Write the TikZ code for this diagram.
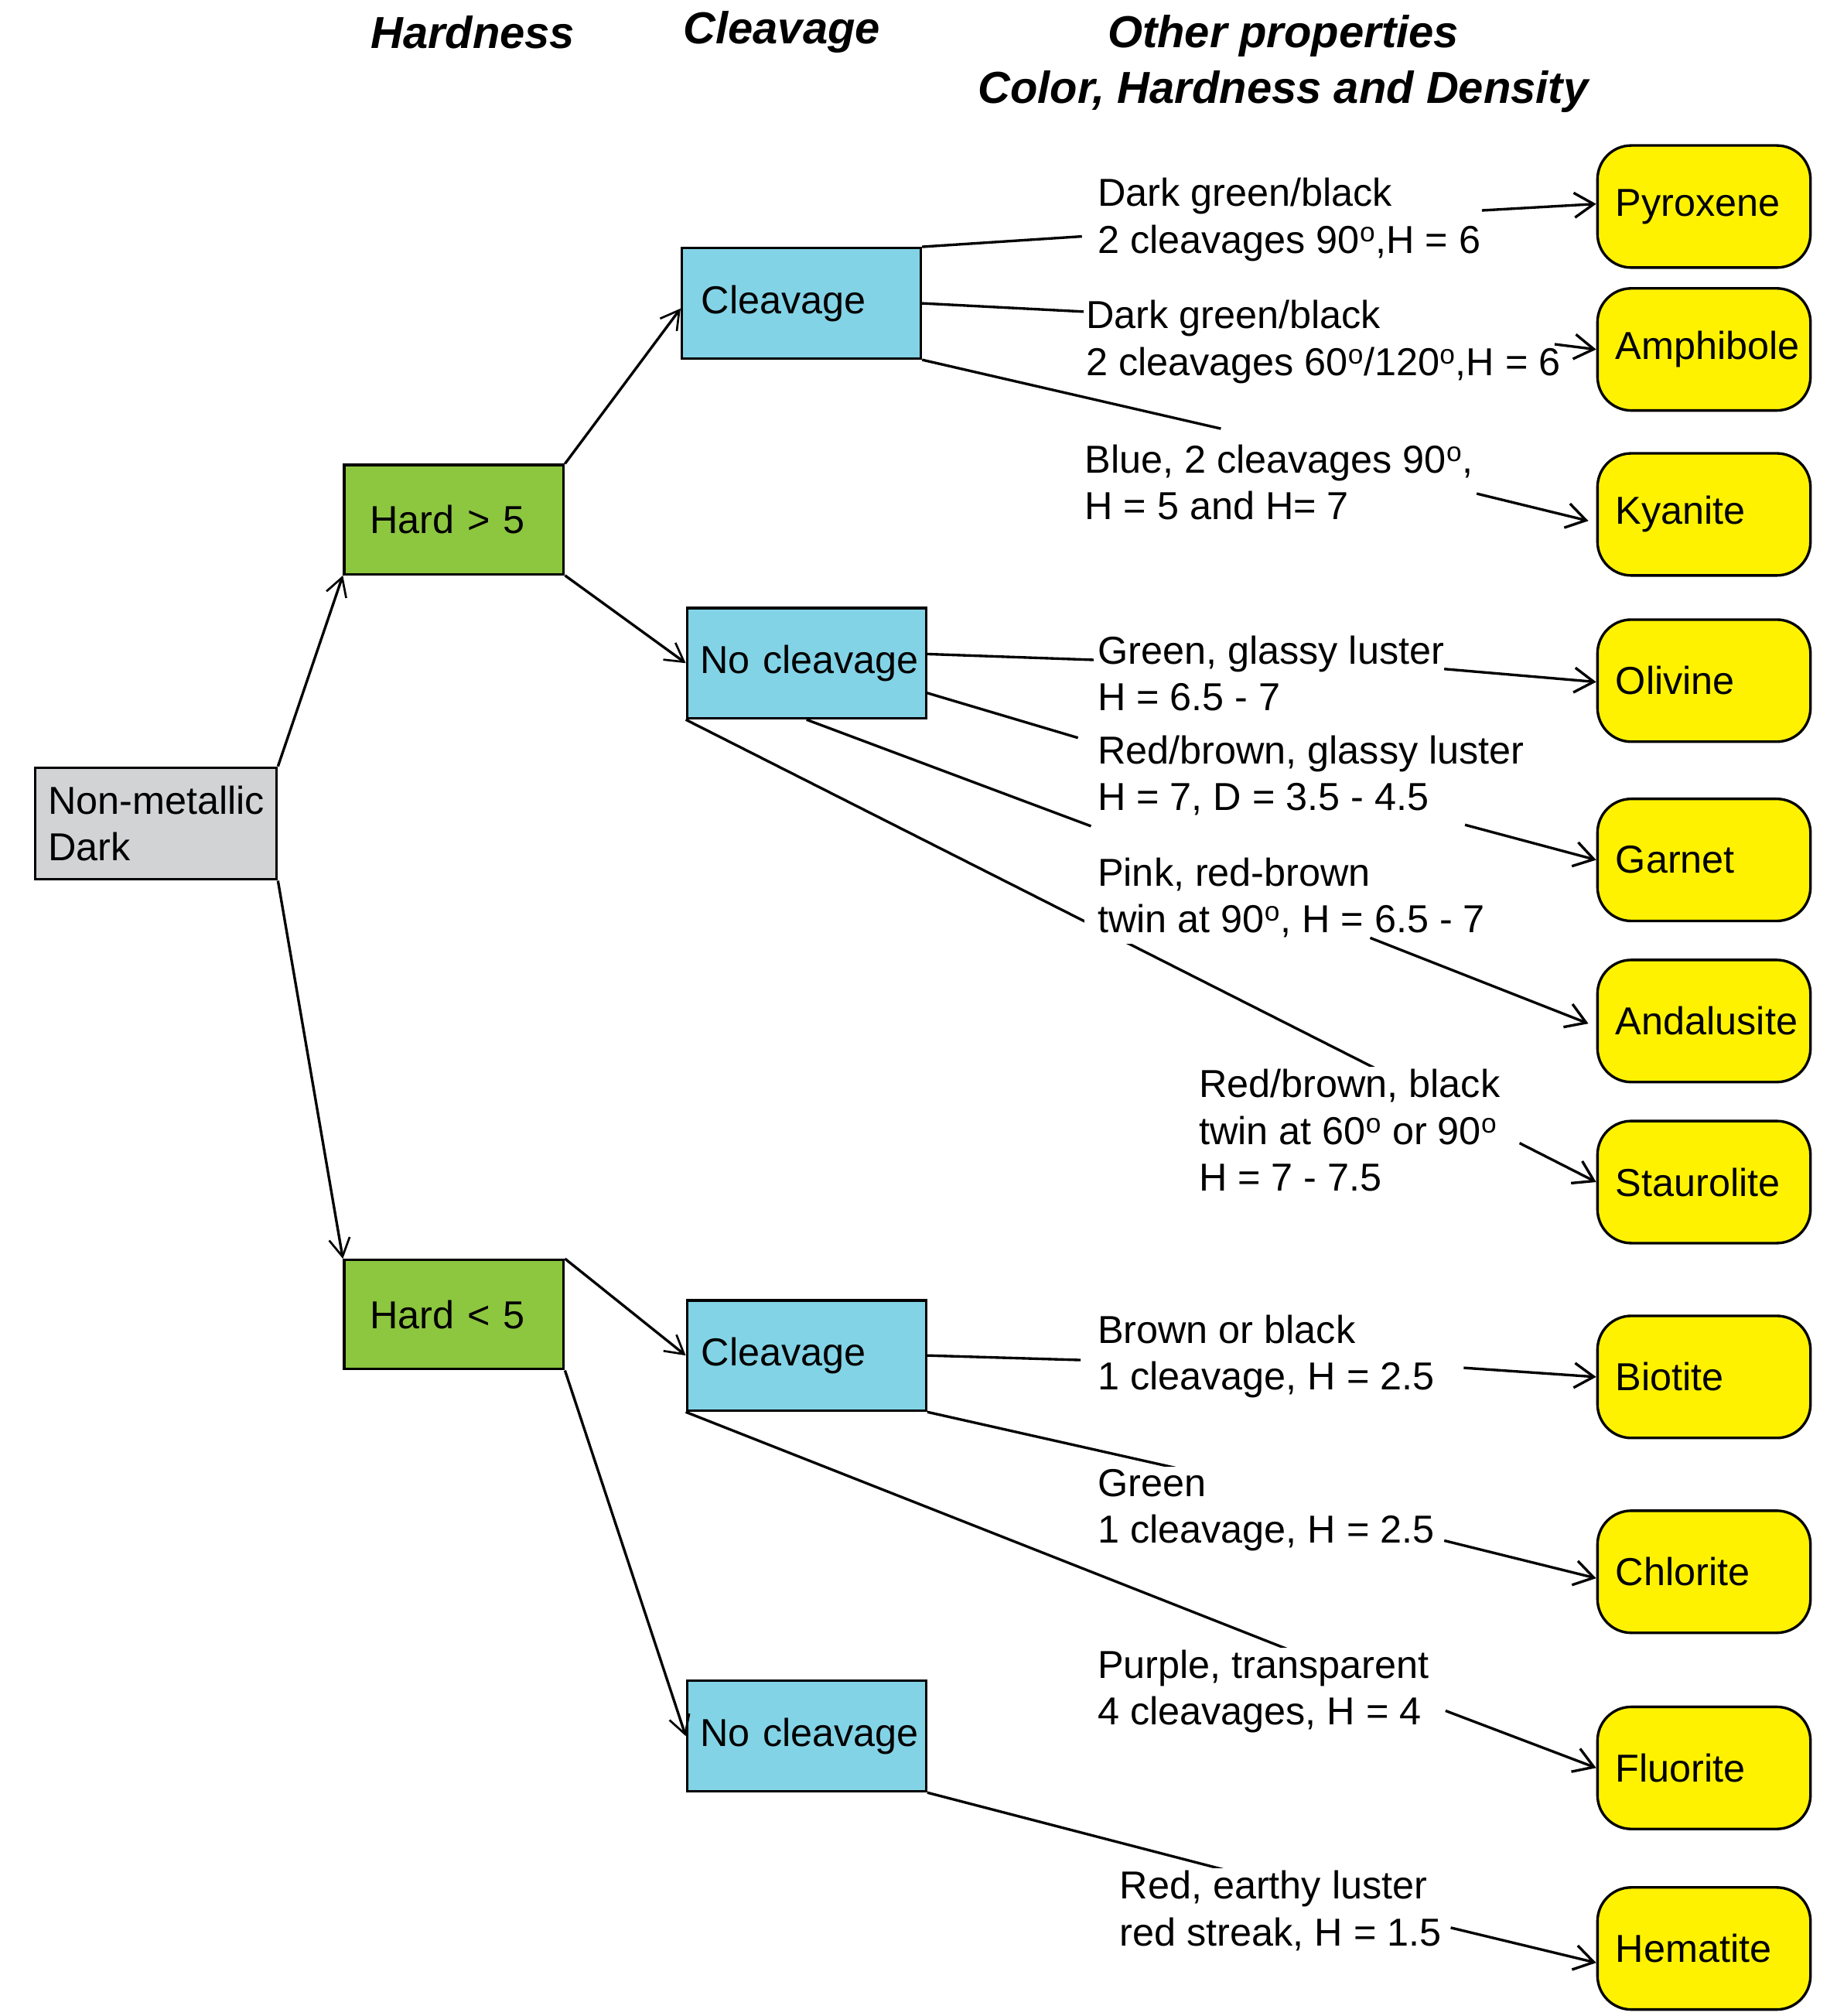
\documentclass[tikz,border=0pt]{standalone}
\usepackage{fontspec}
\setmainfont{Liberation Sans}
\usetikzlibrary{arrows.meta}
\definecolor{rootgray}{HTML}{D1D3D4}
\definecolor{hardgreen}{HTML}{8DC63F}
\definecolor{cleavblue}{HTML}{83D3E6}
\definecolor{minyellow}{HTML}{FFF200}
\newcommand{\dg}{\textsuperscript{o}}
\hyphenpenalty=10000
\exhyphenpenalty=10000
\hbadness=10000
\hfuzz=50pt
\tikzset{
  every node/.style={font=\fontsize{30}{36}\selectfont},
  boxbase/.style={draw, line width=2pt, anchor=north west, align=left},
  rootbox/.style={boxbase, fill=rootgray, inner xsep=10pt, text width=166pt, minimum height=86pt},
  hardbox/.style={boxbase, fill=hardgreen, inner xsep=20pt, text width=129pt, minimum height=84pt},
  cleavbox/.style={boxbase, fill=cleavblue, inner xsep=10pt, text width=164pt, minimum height=85pt},
  minbox/.style={boxbase, fill=minyellow, rounded corners=26pt, inner xsep=14pt, text width=136pt, minimum height=94pt},
  infolabel/.style={anchor=base west, align=left, fill=white, inner sep=2pt},
  header/.style={font=\fontsize{34.5}{43}\selectfont\bfseries\itshape, align=center},
  conn/.style={line width=2pt},
  arr/.style={line width=2pt, -{Straight Barb[length=15pt,width=19pt,line width=2pt]}},
  thinarr/.style={line width=2pt, -{Straight Barb[length=14pt,width=16pt,line width=1.6pt]}}
}
\begin{document}
\begin{tikzpicture}[x=1pt,y=-1pt]
\useasboundingbox (0,0) rectangle (1414,1552);
% headers
\node[header] (hh) at (364,25) {Hardness};
\node[header] (hc) at (602,25) {Cleavage};
\node[header] (ho) at (988,49) {Other properties\\Color, Hardness and Density};
% boxes
\node[rootbox] (root) at (26,590) {Non-metallic\\Dark};
\node[hardbox] (h1) at (264,357) {Hard \textgreater{} 5};
\node[hardbox] (h2) at (264,969) {Hard \textless{} 5};
\node[cleavbox, inner xsep=15pt, text width=154pt] (c1) at (524,190) {Cleavage};
\node[cleavbox] (n1) at (528,467) {No~cleavage};
\node[cleavbox, inner xsep=11pt, text width=162pt] (c2) at (528,1000) {Cleavage};
\node[cleavbox] (n2) at (528,1293) {No~cleavage};
% minerals
\node[minbox] (pyr) at (1229,111) {Pyroxene};
\node[minbox] (amp) at (1229,221) {Amphibole};
\node[minbox] (kya) at (1229,348) {Kyanite};
\node[minbox] (oli) at (1229,476) {Olivine};
\node[minbox] (gar) at (1229,614) {Garnet};
\node[minbox] (and) at (1229,738) {Andalusite};
\node[minbox] (sta) at (1229,862) {Staurolite};
\node[minbox] (bio) at (1229,1012) {Biotite};
\node[minbox] (chl) at (1229,1162) {Chlorite};
\node[minbox] (flu) at (1229,1313) {Fluorite};
\node[minbox] (hem) at (1229,1452) {Hematite};
% tree arrows
\draw[thinarr] (root.north east) -- (h1.south west);
\draw[thinarr] (root.south east) -- (h2.north west);
\draw[thinarr] (h1.north east) -- ([yshift=-4pt]c1.west);
\draw[thinarr] (h1.south east) -- (n1.west);
\draw[thinarr] (h2.north east) -- (c2.west);
\draw[thinarr] (h2.south east) -- (n2.west);
% line end coordinates
\coordinate (e1) at (833,182);
\coordinate (e2) at (836,240);
\coordinate (e3) at (940,330);
\coordinate (e4) at (842,508);
\coordinate (e5) at (830,568);
\coordinate (e6) at (840,636);
\coordinate (e7) at (1060,823);
\coordinate (e8) at (832,1047);
\coordinate (e9) at (905,1130);
\coordinate (e10) at (1000,1273);
\coordinate (e11) at (945,1440);
\draw[conn] (c1.north east) -- (e1);
\draw[conn] (c1.east) -- (e2);
\draw[conn] (c1.south east) -- (e3);
\draw[conn] ([yshift=7pt]n1.east) -- (e4);
\draw[conn] ([yshift=-23pt]n1.east) -- (e5);
\draw[conn] (n1.south) -- (e6);
\draw[conn] (n1.south west) -- (e7);
\draw[conn] (c2.east) -- (e8);
\draw[conn] (c2.south east) -- (e9);
\draw[conn] (c2.south west) -- (e10);
\draw[conn] (n2.south east) -- (e11);
% labels (anchor = baseline of last line)
\node[infolabel] (l1) at (843,195) {Dark green/black\\2 cleavages 90\dg,H = 6};
\node[infolabel] (l2) at (834,289) {Dark green/black\\2 cleavages 60\dg/120\dg,H = 6};
\node[infolabel] (l3) at (833,400) {Blue, 2 cleavages 90\dg,\\H = 5 and H= 7};
\node[infolabel] (l4) at (843,547) {Green, glassy luster\\H = 6.5 - 7};
\node[infolabel] (l5) at (843,624) {Red/brown, glassy luster\\H = 7, D = 3.5 - 4.5};
\node[infolabel, inner xsep=10pt, inner ysep=5pt] (l6) at (835,718) {Pink, red-brown\\twin at 90\dg, H = 6.5 - 7};
\node[infolabel] (l7) at (921,917) {Red/brown, black\\twin at 60\dg{} or 90\dg\\H = 7 - 7.5};
\node[infolabel] (l8) at (843,1070) {Brown or black\\1 cleavage, H = 2.5};
\node[infolabel] (l9) at (843,1188) {Green\\1 cleavage, H = 2.5};
\node[infolabel] (l10) at (843,1328) {Purple, transparent\\4 cleavages, H = 4};
\node[infolabel] (l11) at (860,1498) {Red, earthy luster\\red streak, H = 1.5};
% arrows to minerals
\coordinate (a1) at (1141,162);
\coordinate (a2) at (1197,265);
\coordinate (a3) at (1137,380);
\coordinate (a4) at (1112,515);
\coordinate (a5) at (1128,635);
\coordinate (a6) at (1055,722);
\coordinate (a7) at (1170,880);
\coordinate (a8) at (1127,1053);
\coordinate (a9) at (1112,1186);
\coordinate (a10) at (1113,1317);
\coordinate (a11) at (1117,1484);
\draw[arr] (a1) -- ([yshift=2pt]pyr.west);
\draw[arr] (a2) -- (amp.west);
\draw[arr] (a3) -- ([xshift=-6pt,yshift=-5pt]kya.west);
\draw[arr] (a4) -- ([yshift=-1pt]oli.west);
\draw[arr] (a5) -- (gar.west);
\draw[arr] (a6) -- ([xshift=-6pt,yshift=-2pt]and.west);
\draw[arr] (a7) -- (sta.west);
\draw[arr] (a8) -- (bio.west);
\draw[arr] (a9) -- ([yshift=-5pt]chl.west);
\draw[arr] (a10) -- (flu.west);
\draw[arr] (a11) -- ([yshift=-11pt]hem.west);
\end{tikzpicture}
\end{document}
